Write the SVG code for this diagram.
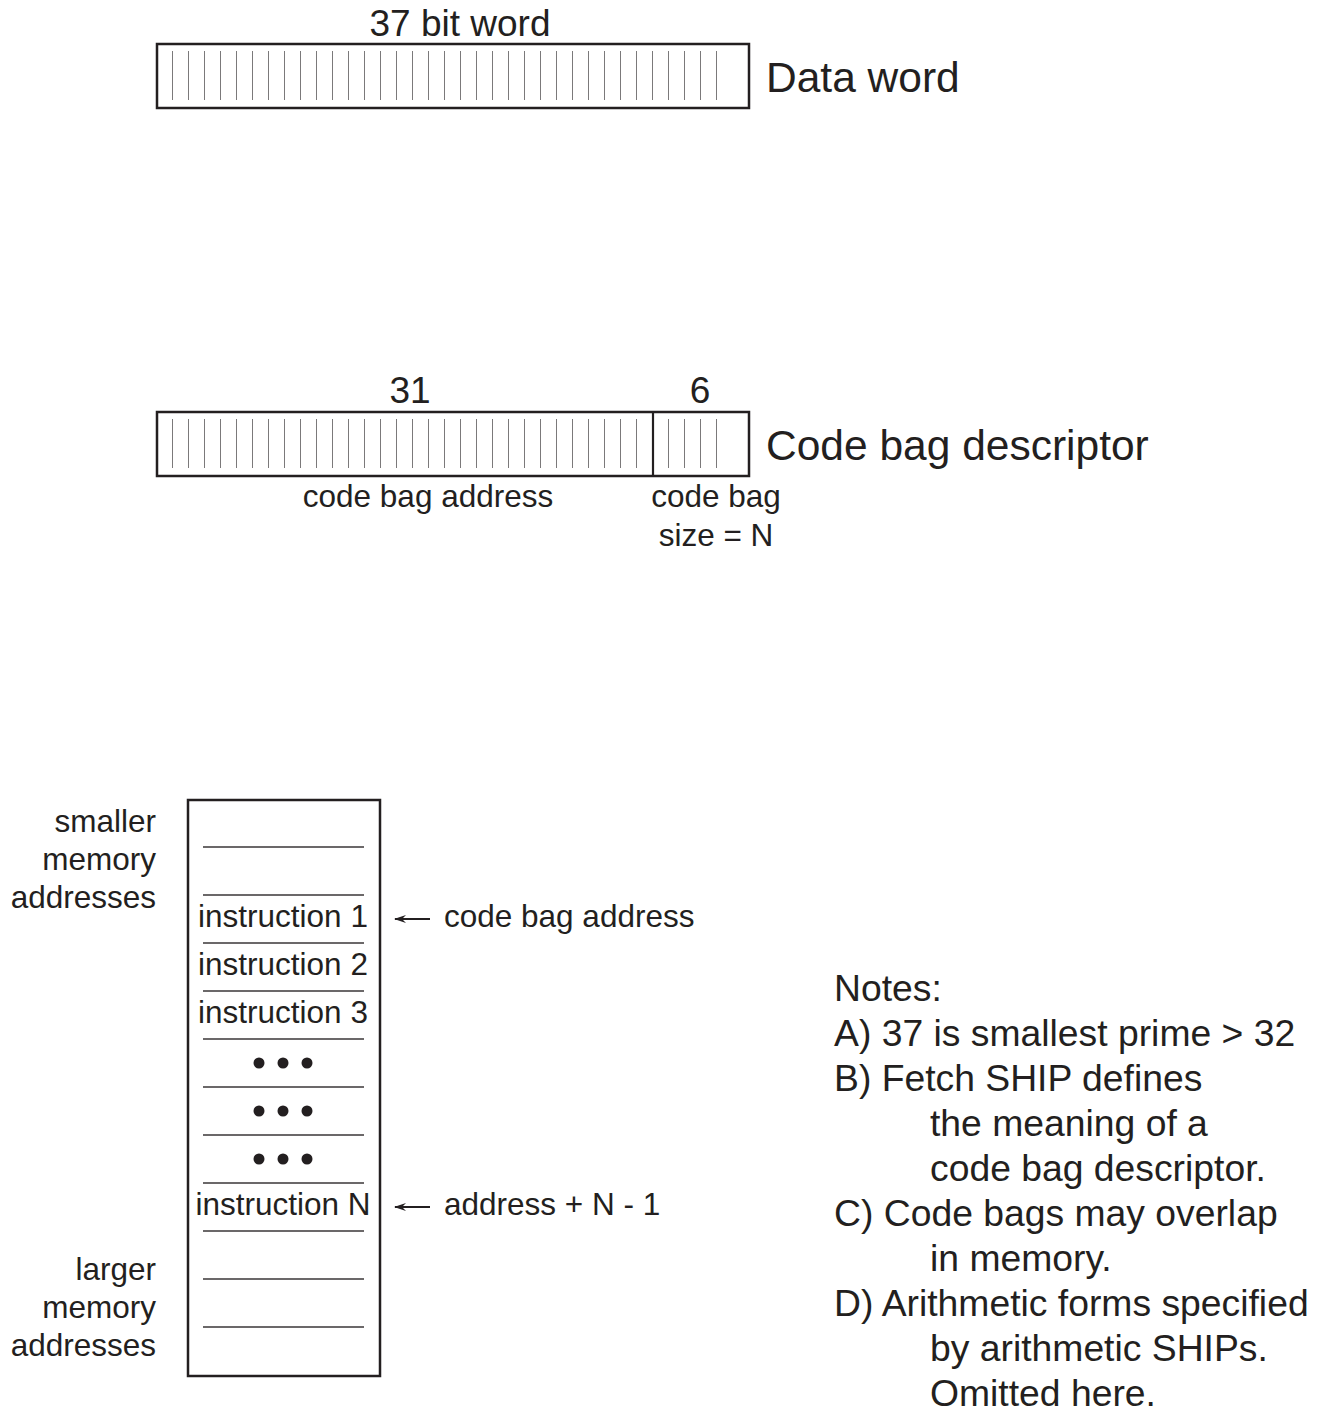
<svg xmlns="http://www.w3.org/2000/svg" width="1323" height="1412" viewBox="0 0 1323 1412">
  <style>
    text { font-family: "Liberation Sans", Arial, sans-serif; fill: #231f20; }
    .big { font-size: 42.5px; }
    .mid { font-size: 37px; }
    .sm { font-size: 31.5px; }
    .note { font-size: 37.3px; }
    .frame { fill: #fff; stroke: #231f20; stroke-width: 2.5; }
    .tick { stroke: #231f20; stroke-width: 1.2; }
    .rule { stroke: #3a3637; stroke-width: 1.5; }
    .dot { fill: #231f20; }
    .arrow { stroke: #231f20; stroke-width: 2; fill: none; }
  </style>
  <defs>
    <!-- 16px bit cell tick used in the register bars -->
    <pattern id="ticks" x="157" y="0" width="16" height="1412" patternUnits="userSpaceOnUse">
      <line x1="16" y1="0" x2="16" y2="1412" class="tick"/>
    </pattern>
    <marker id="head" viewBox="0 0 12 10" refX="11" refY="5" markerWidth="12" markerHeight="10" markerUnits="userSpaceOnUse" orient="auto">
      <path d="M0,1 L12,5 L0,9 L4,5 Z" fill="#231f20"/>
    </marker>
  </defs>

  <!-- 37 bit data word -->
  <g id="data-word">
    <text class="mid" x="460" y="36" text-anchor="middle">37 bit word</text>
    <rect class="frame" x="157" y="44" width="592" height="64"/>
    <rect x="157" y="51" width="575" height="49" fill="url(#ticks)"/>
    <text class="big" x="766" y="92">Data word</text>
  </g>

  <!-- code bag descriptor: 31 bit address + 6 bit size -->
  <g id="code-bag-descriptor">
    <text class="mid" x="410" y="403" text-anchor="middle">31</text>
    <text class="mid" x="700" y="403" text-anchor="middle">6</text>
    <rect class="frame" x="157" y="412" width="592" height="64"/>
    <rect x="157" y="419" width="575" height="49" fill="url(#ticks)"/>
    <line x1="653" y1="412" x2="653" y2="476" stroke="#231f20" stroke-width="2.2"/>
    <text class="big" x="766" y="460">Code bag descriptor</text>
    <text class="sm" x="428" y="507" text-anchor="middle">code bag address</text>
    <text class="sm" x="716" y="507" text-anchor="middle">code bag</text>
    <text class="sm" x="716" y="546" text-anchor="middle">size = N</text>
  </g>

  <!-- memory column -->
  <g id="memory">
    <rect class="frame" x="188" y="800" width="192" height="576"/>
    <g class="rules">
      <line class="rule" x1="203" y1="847" x2="364" y2="847"/>
      <line class="rule" x1="203" y1="895" x2="364" y2="895"/>
      <line class="rule" x1="203" y1="943" x2="364" y2="943"/>
      <line class="rule" x1="203" y1="991" x2="364" y2="991"/>
      <line class="rule" x1="203" y1="1039" x2="364" y2="1039"/>
      <line class="rule" x1="203" y1="1087" x2="364" y2="1087"/>
      <line class="rule" x1="203" y1="1135" x2="364" y2="1135"/>
      <line class="rule" x1="203" y1="1183" x2="364" y2="1183"/>
      <line class="rule" x1="203" y1="1231" x2="364" y2="1231"/>
      <line class="rule" x1="203" y1="1279" x2="364" y2="1279"/>
      <line class="rule" x1="203" y1="1327" x2="364" y2="1327"/>
    </g>
    <text class="sm" x="283" y="927" text-anchor="middle">instruction 1</text>
    <text class="sm" x="283" y="975" text-anchor="middle">instruction 2</text>
    <text class="sm" x="283" y="1023" text-anchor="middle">instruction 3</text>
    <g class="dots">
      <circle class="dot" cx="259" cy="1063" r="5.5"/>
      <circle class="dot" cx="283" cy="1063" r="5.5"/>
      <circle class="dot" cx="307" cy="1063" r="5.5"/>
      <circle class="dot" cx="259" cy="1111" r="5.5"/>
      <circle class="dot" cx="283" cy="1111" r="5.5"/>
      <circle class="dot" cx="307" cy="1111" r="5.5"/>
      <circle class="dot" cx="259" cy="1159" r="5.5"/>
      <circle class="dot" cx="283" cy="1159" r="5.5"/>
      <circle class="dot" cx="307" cy="1159" r="5.5"/>
    </g>
    <text class="sm" x="283" y="1215" text-anchor="middle">instruction N</text>
  </g>

  <!-- address direction labels -->
  <g id="smaller-label">
    <text class="sm" x="156" y="832" text-anchor="end">smaller</text>
    <text class="sm" x="156" y="870" text-anchor="end">memory</text>
    <text class="sm" x="156" y="908" text-anchor="end">addresses</text>
  </g>
  <g id="larger-label">
    <text class="sm" x="156" y="1280" text-anchor="end">larger</text>
    <text class="sm" x="156" y="1318" text-anchor="end">memory</text>
    <text class="sm" x="156" y="1356" text-anchor="end">addresses</text>
  </g>

  <!-- pointer labels -->
  <g id="start-label">
    <text class="sm" x="444" y="927">code bag address</text>
  </g>
  <g id="end-label">
    <text class="sm" x="444" y="1215">address + N - 1</text>
  </g>
  <g id="connectors">
    <line class="arrow" x1="430" y1="919" x2="395" y2="919" marker-end="url(#head)"/>
    <line class="arrow" x1="430" y1="1207" x2="395" y2="1207" marker-end="url(#head)"/>
  </g>

  <!-- notes -->
  <g id="notes">
    <text class="note" x="834" y="1001">Notes:</text>
    <text class="note" x="834" y="1046">A) 37 is smallest prime &gt; 32</text>
    <text class="note" x="834" y="1091">B) Fetch SHIP defines</text>
    <text class="note" x="930" y="1136">the meaning of a</text>
    <text class="note" x="930" y="1181">code bag descriptor.</text>
    <text class="note" x="834" y="1226">C) Code bags may overlap</text>
    <text class="note" x="930" y="1271">in memory.</text>
    <text class="note" x="834" y="1316">D) Arithmetic forms specified</text>
    <text class="note" x="930" y="1361">by arithmetic SHIPs.</text>
    <text class="note" x="930" y="1406">Omitted here.</text>
  </g>
</svg>
